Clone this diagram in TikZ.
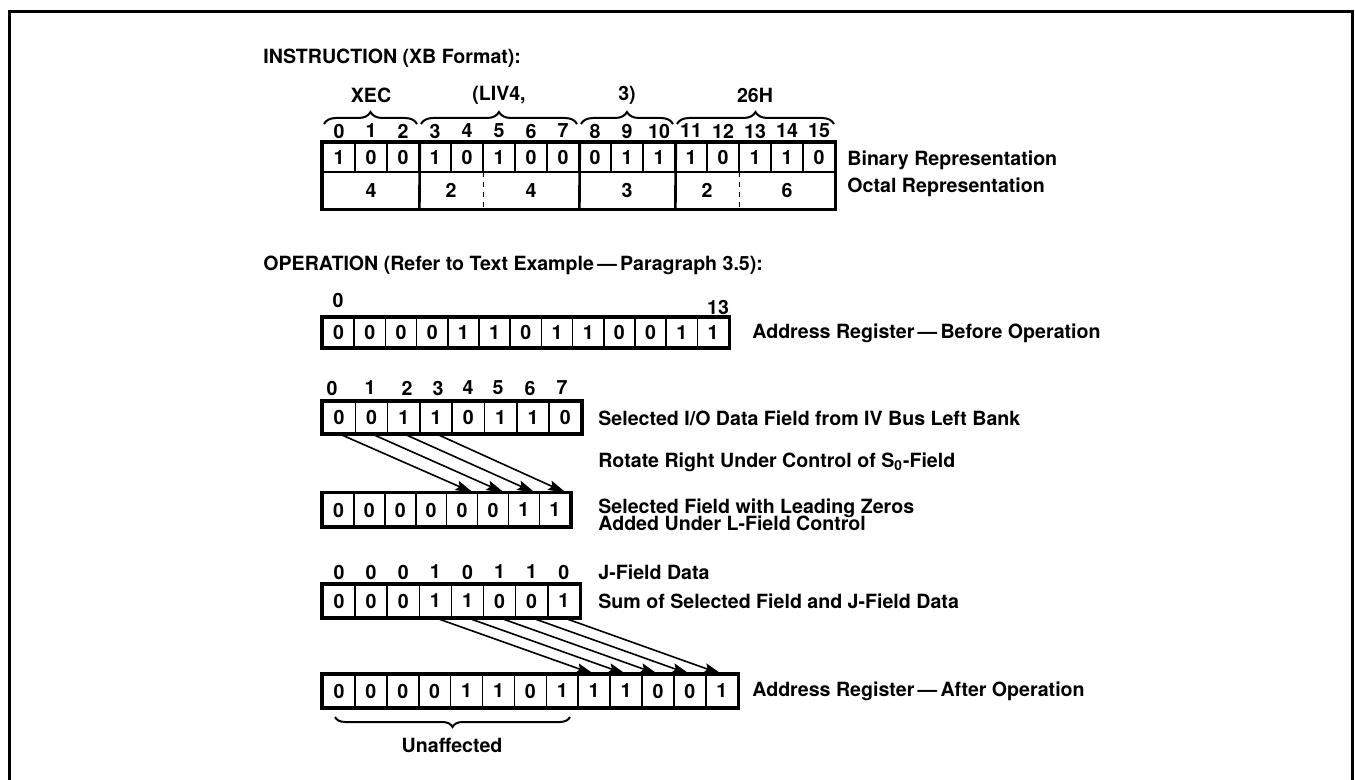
\documentclass[tikz,border=0pt]{standalone}
\usepackage{fontspec}
\setmainfont{TeX Gyre Heros}
\usetikzlibrary{arrows.meta,decorations.pathreplacing}
\newcommand{\bitfont}{\fontsize{9.8}{11}\selectfont\bfseries}
\tikzset{
  bitcell/.style={draw, line width=0.8pt, inner sep=0pt, font=\bitfont},
  regframe/.style={draw, line width=1.8pt},
  txt/.style={inner sep=0pt, font=\bitfont},
  lbl/.style={txt, anchor=west},
  shiftarrow/.style={line width=0.8pt, -{Stealth[length=9pt,width=5pt,inset=1.5pt]}},
  fieldbrace/.style={decorate, decoration={brace, amplitude=6pt}, line width=1pt},
}
\begin{document}
\begin{tikzpicture}[x=0.5pt,y=-0.5pt]
  \useasboundingbox (0,0) rectangle (1355,780);
  % frame, open at the bottom
  \draw[line width=1.5pt] (9,780) -- (9,12) -- (1352,12) -- (1352,780);

  % instruction word
  \node[lbl] (ins-title) at (263,58) {INSTRUCTION (XB Format):};
  \foreach \b [count=\i from 0] in {1,0,0,1,0,1,0,0,0,1,1,1,0,1,1,0}
    {\node[bitcell, minimum width=16pt, minimum height=14.5pt] (bin-\i) at ({339+32*\i},157.5) {\b};
     \node[txt] (idx-\i) at ({339+32*\i},131) {\i};}
  \node[txt, minimum width=48pt, minimum height=18.5pt] (oct-a) at (371,190.5) {4};
  \node[txt, minimum width=32pt, minimum height=18.5pt] (oct-b) at (451,190.5) {2};
  \node[txt, minimum width=48pt, minimum height=18.5pt] (oct-c) at (531,190.5) {4};
  \node[txt, minimum width=48pt, minimum height=18.5pt] (oct-d) at (627,190.5) {3};
  \node[txt, minimum width=32pt, minimum height=18.5pt] (oct-e) at (707,190.5) {2};
  \node[txt, minimum width=48pt, minimum height=18.5pt] (oct-f) at (787,190.5) {6};
  \draw[line width=1.3pt] (bin-2.north east) -- (oct-a.south east);
  \draw[line width=1.3pt] (bin-7.north east) -- (oct-c.south east);
  \draw[line width=1.3pt] (bin-10.north east) -- (oct-d.south east);
  \draw[line width=0.8pt, dash pattern=on 2.5pt off 2.5pt] (oct-b.north east) -- (oct-b.south east);
  \draw[line width=0.8pt, dash pattern=on 2.5pt off 2.5pt] (oct-e.north east) -- (oct-e.south east);
  \draw[regframe] (bin-0.north west) rectangle (oct-f.south east);
  % field braces
  \draw[fieldbrace] (324,124) -- (417,124);
  \draw[fieldbrace] (421,124) -- (577,124);
  \draw[fieldbrace] (581,124) -- (673,124);
  \draw[fieldbrace] (677,124) -- (834,124);
  \node[txt] (grp-xec) at (371,95) {XEC};
  \node[txt] (grp-liv) at (499,95) {(LIV4,};
  \node[txt] (grp-len) at (627,95) {3)};
  \node[txt] (grp-lit) at (755,95) {26H};
  \node[lbl] (lbl-bin) at (847,160) {Binary Representation};
  \node[lbl] (lbl-oct) at (847,187) {Octal Representation};

  % operation
  \node[lbl] (op-title) at (263,265) {OPERATION (Refer to Text Example\,—\,Paragraph 3.5):};
  \foreach \b [count=\i from 0] in {0,0,0,0,1,1,0,1,1,0,0,1,1}
    {\node[bitcell, minimum width=15.6pt, minimum height=14.5pt] (bef-\i) at ({323+31.2*(\i+0.5)},332.5) {\b};}
  \draw[regframe] (bef-0.north west) rectangle (bef-12.south east);
  \node[txt] (bef-lo) at (338,300) {0};
  \node[txt] (bef-hi) at (718,307) {13};
  \node[lbl] (lbl-bef) at (752,333) {Address Register\,—\,Before Operation};

  % selected field and rotation
  \foreach \b [count=\i from 0] in {0,0,1,1,0,1,1,0}
    {\node[bitcell, minimum width=16.15pt, minimum height=15.5pt] (sel-\i) at ({323+32.3*(\i+0.5)},417.5) {\b};}
  \draw[regframe] (sel-0.north west) rectangle (sel-7.south east);
  \foreach \x [count=\i from 0] in {332,370,407,438,468,498,530,562}
    {\node[txt] (sidx-\i) at (\x,388) {\i};}
  \foreach \b [count=\i from 0] in {0,0,0,0,0,0,1,1}
    {\node[bitcell, minimum width=15.45pt, minimum height=16.5pt] (lead-\i) at ({323+30.9*(\i+0.5)},510) {\b};}
  \draw[regframe] (lead-0.north west) rectangle (lead-7.south east);
  \foreach \i [evaluate=\i as \j using int(\i+4)] in {0,...,3}
    {\draw[shiftarrow] (sel-\i.south) -- ([xshift=-2.5pt]lead-\j.north east);}
  \node[lbl] (lbl-sel) at (598,418) {Selected I/O Data Field from IV Bus Left Bank};
  \node[lbl] (lbl-rot) at (598,462) {Rotate Right Under Control of S\textsubscript{0}-Field};
  \node[lbl, align=left] (lbl-lead) at (598,515) {Selected Field with Leading Zeros\\[-2.5pt]Added Under L-Field Control};

  % J-field sum and result
  \foreach \b [count=\i from 0] in {0,0,0,1,1,0,0,1}
    {\node[bitcell, minimum width=16.05pt, minimum height=16pt] (sum-\i) at ({323+32.1*(\i+0.5)},601) {\b};}
  \draw[regframe] (sum-0.north west) rectangle (sum-7.south east);
  \foreach \b [count=\i from 0] in {0,0,0,1,0,1,1,0}
    {\node[txt] (jf-\i) at ({323+32.1*(\i+0.5)},572) {\b};}
  \node[lbl] (lbl-jf) at (598,572) {J-Field Data};
  \node[lbl] (lbl-sum) at (598,601) {Sum of Selected Field and J-Field Data};
  \foreach \b [count=\i from 0] in {0,0,0,0,1,1,0,1,1,1,0,0,1}
    {\node[bitcell, minimum width=15.95pt, minimum height=16pt] (aft-\i) at ({323+31.9*(\i+0.5)},691) {\b};}
  \draw[regframe] (aft-0.north west) rectangle (aft-12.south east);
  \foreach \i [evaluate=\i as \j using int(\i+5)] in {3,...,7}
    {\draw[shiftarrow] (sum-\i.south) -- (aft-\j.north);}
  \node[lbl] (lbl-aft) at (752,691) {Address Register\,—\,After Operation};
  \draw[fieldbrace, decoration={amplitude=5pt}] (570,717) -- (335,717);
  \node[txt] (lbl-unaff) at (452,745) {Unaffected};
\end{tikzpicture}
\end{document}
